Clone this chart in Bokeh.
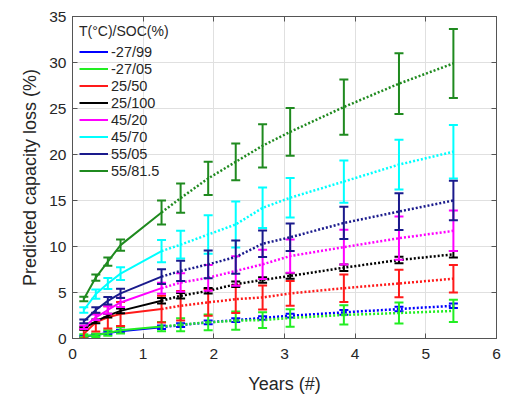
from bokeh.plotting import figure
from bokeh.models import Legend, LegendItem, LinearAxis, Range1d, FixedTicker
from bokeh.embed import file_html
from bokeh.resources import INLINE

# Time points (years)
years = [0.16, 0.33, 0.50, 0.68, 1.26, 1.53, 1.92, 2.31, 2.69, 3.08, 3.84, 4.62, 5.39]
n_measured = 5  # first points are measured (solid), the rest are predicted (dotted)

labels = ["-27/99", "-27/05", "25/50", "25/100", "45/20", "45/70", "55/05", "55/81.5"]
colors = ["#0000ff", "#22ee22", "#ff1a1a", "#000000", "#ff00ff", "#00ffff", "#1a1a8c", "#1f8a1f"]

x_ticks = [0, 1, 2, 3, 4, 5, 6]
y_ticks = [0, 5, 10, 15, 20, 25, 30, 35]

loss_m27_99 = [0.20, 0.40, 0.60, 0.80, 1.22, 1.46, 1.76, 2.00, 2.23, 2.48, 2.84, 3.20, 3.56]
err_m27_99 = [0.10, 0.10, 0.15, 0.15, 0.20, 0.20, 0.20, 0.20, 0.20, 0.20, 0.25, 0.25, 0.25]
loss_m27_05 = [0.30, 0.35, 0.60, 0.90, 1.30, 1.50, 1.76, 1.94, 2.00, 2.23, 2.56, 2.77, 3.00]
err_m27_05 = [0.15, 0.20, 0.30, 0.35, 0.50, 0.70, 0.85, 1.00, 0.85, 0.95, 1.05, 1.15, 1.20]
loss_25_50 = [0.50, 1.76, 2.30, 2.66, 3.20, 3.56, 3.92, 4.28, 4.46, 4.90, 5.47, 5.98, 6.50]
err_25_50 = [0.50, 1.00, 1.20, 1.30, 1.45, 1.60, 1.45, 1.50, 1.30, 1.35, 1.50, 1.50, 1.50]
loss_25_100 = [1.10, 1.87, 2.48, 3.00, 4.10, 4.64, 5.18, 5.90, 6.37, 6.80, 7.70, 8.53, 9.15]
err_25_100 = [0.15, 0.20, 0.20, 0.25, 0.30, 0.30, 0.30, 0.30, 0.30, 0.30, 0.35, 0.35, 0.35]
loss_45_20 = [1.22, 2.30, 3.10, 3.92, 5.47, 6.08, 6.60, 7.34, 8.06, 8.96, 9.93, 10.90, 11.70]
err_45_20 = [0.20, 0.30, 0.40, 0.50, 0.60, 1.00, 1.40, 1.60, 1.60, 1.80, 1.90, 2.35, 2.20]
loss_45_70 = [3.10, 4.83, 5.98, 7.05, 9.50, 10.20, 11.30, 12.40, 14.20, 15.30, 17.06, 18.90, 20.30]
err_45_70 = [0.30, 0.50, 0.60, 0.70, 1.20, 1.50, 2.10, 2.50, 2.20, 2.15, 2.30, 2.70, 2.90]
loss_55_05 = [1.87, 3.10, 4.10, 4.90, 6.73, 7.34, 8.06, 8.85, 10.30, 11.00, 12.56, 13.80, 15.00]
err_55_05 = [0.20, 0.30, 0.40, 0.50, 0.80, 1.10, 1.50, 1.80, 1.45, 1.50, 1.75, 2.00, 2.15]
loss_55_815 = [4.29, 6.62, 8.35, 10.15, 13.70, 15.26, 17.40, 19.20, 20.95, 22.46, 25.16, 27.70, 29.90]
err_55_815 = [0.25, 0.35, 0.45, 0.60, 1.30, 1.60, 1.80, 2.00, 2.35, 2.60, 3.00, 3.30, 3.75]

series = [
    (loss_m27_99, err_m27_99),
    (loss_m27_05, err_m27_05),
    (loss_25_50, err_25_50),
    (loss_25_100, err_25_100),
    (loss_45_20, err_45_20),
    (loss_45_70, err_45_70),
    (loss_55_05, err_55_05),
    (loss_55_815, err_55_815),
]

FONT = "Liberation Sans"
TXT = "#262626"
AX = "#555555"

p = figure(width=510, height=405, output_backend="svg", toolbar_location=None,
           x_range=Range1d(0, 6), y_range=Range1d(0, 35),
           min_border_left=72, min_border_right=14, min_border_top=16, min_border_bottom=67)
p.background_fill_color = "white"
p.border_fill_color = "white"
p.outline_line_color = AX
p.outline_line_width = 1

p.xaxis.ticker = FixedTicker(ticks=x_ticks)
p.yaxis.ticker = FixedTicker(ticks=y_ticks)
for ax in (p.xaxis[0], p.yaxis[0]):
    ax.major_tick_in = 5
    ax.major_tick_out = 0
    ax.minor_tick_line_color = None
    ax.axis_line_color = AX
    ax.major_tick_line_color = AX
    ax.major_label_text_font = FONT
    ax.major_label_text_font_size = "15.5px"
    ax.major_label_text_color = TXT
    ax.axis_label_text_font = FONT
    ax.axis_label_text_font_size = "18px"
    ax.axis_label_text_font_style = "normal"
    ax.axis_label_text_color = TXT
p.xaxis.axis_label = "Years (#)"
p.yaxis.axis_label = "Predicted capacity loss (%)"
p.xaxis.major_label_standoff = 10
p.yaxis.major_label_standoff = 6
p.xaxis.axis_label_standoff = 12
p.yaxis.axis_label_standoff = 6

# box ticks on the opposite sides (no labels)
top = LinearAxis(ticker=FixedTicker(ticks=x_ticks),
                 major_label_overrides={t: "" for t in x_ticks},
                 major_tick_in=5, major_tick_out=0, minor_tick_line_color=None,
                 axis_line_color=AX, major_tick_line_color=AX)
right = LinearAxis(ticker=FixedTicker(ticks=y_ticks),
                   major_label_overrides={t: "" for t in y_ticks},
                   major_tick_in=5, major_tick_out=0, minor_tick_line_color=None,
                   axis_line_color=AX, major_tick_line_color=AX)
p.add_layout(top, "above")
p.add_layout(right, "right")

p.grid.grid_line_color = "#e0e0e0"
p.grid.grid_line_width = 1
p.xgrid.ticker = FixedTicker(ticks=x_ticks)
p.ygrid.ticker = FixedTicker(ticks=y_ticks)

items = []
for (vals, errs), col, lab in zip(series, colors, labels):
    lo = [v - e for v, e in zip(vals, errs)]
    hi = [v + e for v, e in zip(vals, errs)]
    # error bars with caps
    p.segment(years, lo, years, hi, line_color=col, line_width=2)
    p.scatter(years, lo, marker="dash", size=9, line_color=col, line_width=2)
    p.scatter(years, hi, marker="dash", size=9, line_color=col, line_width=2)
    # measured part (solid) and predicted part (dotted)
    solid = p.line(years[:n_measured], vals[:n_measured], line_color=col, line_width=2)
    p.line(years[n_measured - 1:], vals[n_measured - 1:], line_color=col, line_width=2.5,
           line_dash="2 2")
    items.append(LegendItem(label=lab, renderers=[solid]))

legend = Legend(items=items, location="top_left", title="T(°C)/SOC(%)")
legend.title_text_font = FONT
legend.title_text_font_size = "14px"
legend.title_text_font_style = "normal"
legend.title_text_color = TXT
legend.title_standoff = 4
legend.label_text_font = FONT
legend.label_text_font_size = "14.5px"
legend.label_text_color = TXT
legend.glyph_width = 29
legend.glyph_height = 17
legend.label_height = 17
legend.label_standoff = 3
legend.spacing = 0
legend.padding = 5
legend.margin = 7
legend.border_line_color = None
legend.background_fill_alpha = 0.0
p.add_layout(legend)

open("out.html", "w").write(file_html(p, INLINE))
